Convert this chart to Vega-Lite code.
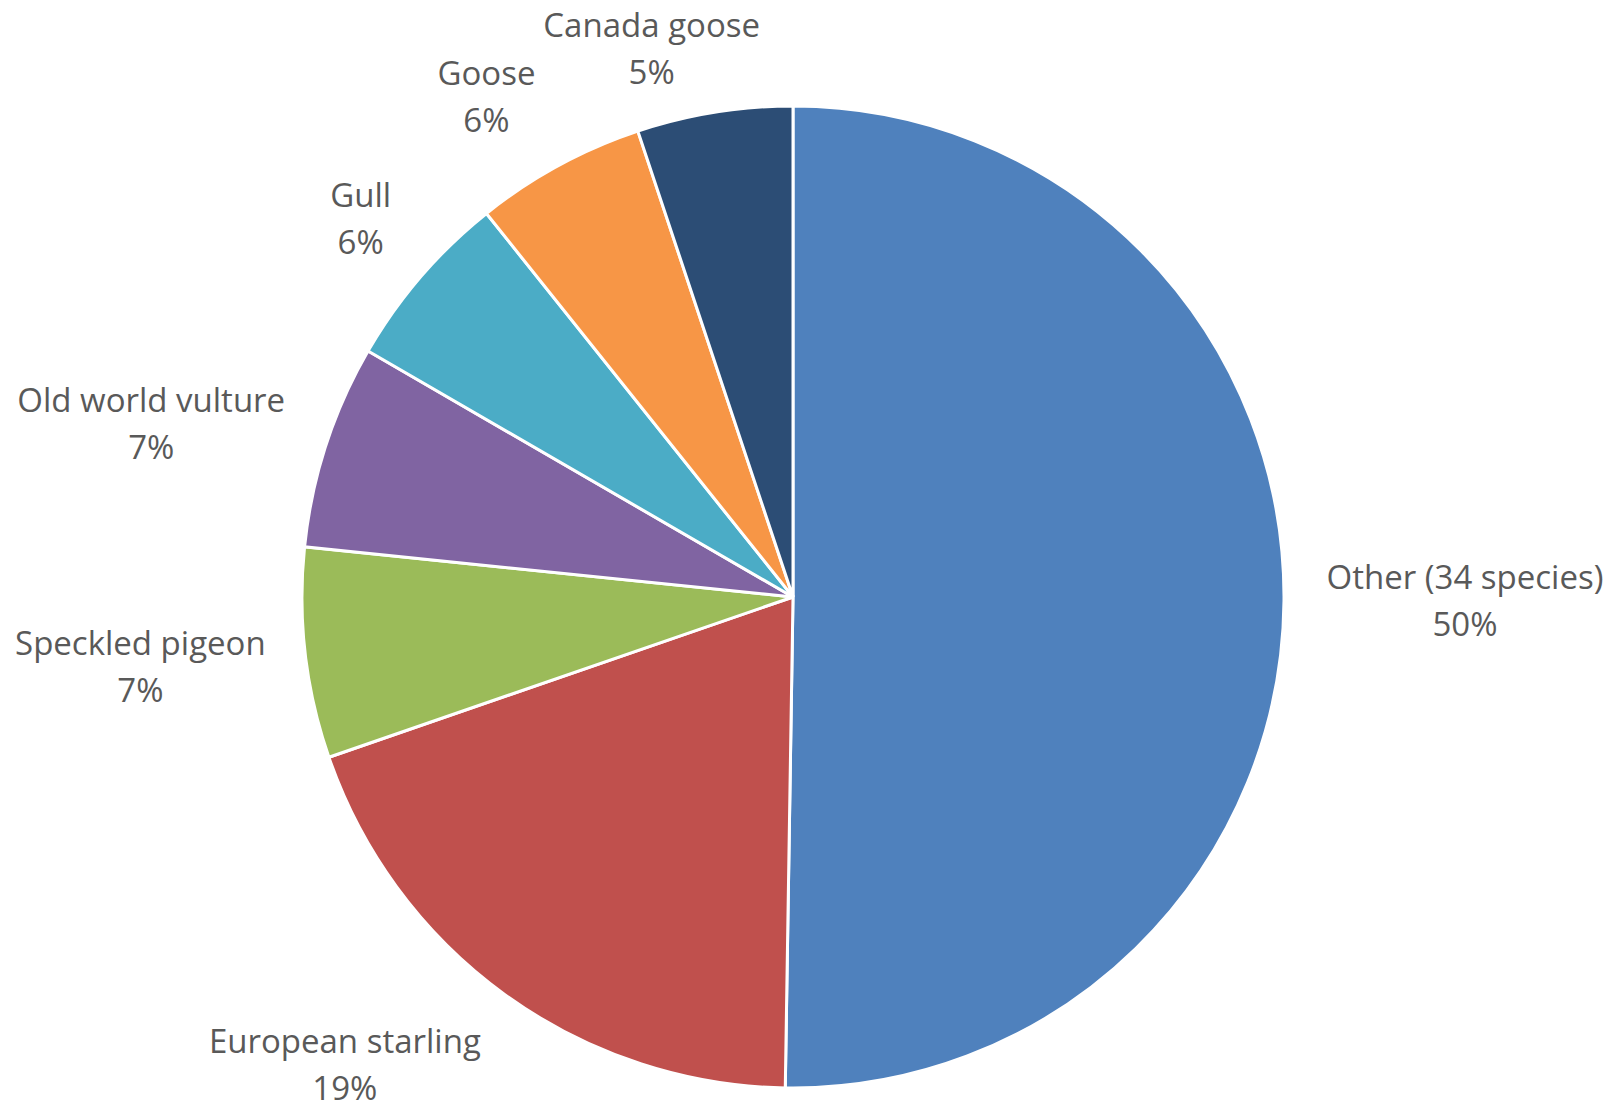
{
  "$schema": "https://vega.github.io/schema/vega-lite/v6.json",
  "width": 1586,
  "height": 1020,
  "autosize": {"type": "none"},
  "padding": {"left": 0, "top": 87, "right": 29, "bottom": 0},
  "background": "white",
  "view": {"stroke": null},
  "config": {
    "text": {"font": "Open Sans", "fontSize": 33, "lineHeight": 47, "lineBreak": "\n", "fill": "#595959", "align": "center", "baseline": "middle"}
  },
  "data": {
    "values": [
      {"species": "Other (34 species)", "value": 0.501, "rank": 1},
      {"species": "European starling", "value": 0.194, "rank": 2},
      {"species": "Speckled pigeon", "value": 0.069, "rank": 3},
      {"species": "Old world vulture", "value": 0.067, "rank": 4},
      {"species": "Gull", "value": 0.059, "rank": 5},
      {"species": "Goose", "value": 0.056, "rank": 6},
      {"species": "Canada goose", "value": 0.051, "rank": 7}
    ]
  },
  "transform": [
    {"calculate": "datum.species + '\\n' + format(datum.value, '.0%')", "as": "label"}
  ],
  "encoding": {
    "theta": {"field": "value", "type": "quantitative", "stack": true},
    "order": {"field": "rank", "type": "quantitative"}
  },
  "layer": [
    {
      "mark": {"type": "arc", "outerRadius": 491, "stroke": "white", "strokeWidth": 3},
      "encoding": {
        "color": {
          "field": "species",
          "type": "nominal",
          "legend": null,
          "scale": {
            "domain": ["Other (34 species)", "European starling", "Speckled pigeon", "Old world vulture", "Gull", "Goose", "Canada goose"],
            "range": ["#4F81BD", "#C0504D", "#9BBB59", "#8064A2", "#4BACC6", "#F79646", "#2C4D75"]
          }
        }
      }
    },
    {
      "mark": {"type": "text", "radius": 672, "dy": -23.5},
      "encoding": {
        "text": {"condition": {"test": "datum.species === 'Other (34 species)'", "field": "label", "type": "nominal"}, "value": ""}
      }
    },
    {
      "mark": {"type": "text", "radius": 578, "dx": -109, "dy": -22},
      "encoding": {
        "text": {"condition": {"test": "datum.species === 'European starling'", "field": "label", "type": "nominal"}, "value": ""}
      }
    },
    {
      "mark": {"type": "text", "radius": 661, "dx": 4, "dy": -28},
      "encoding": {
        "text": {"condition": {"test": "datum.species === 'Speckled pigeon'", "field": "label", "type": "nominal"}, "value": ""}
      }
    },
    {
      "mark": {"type": "text", "radius": 661, "dx": -13, "dy": 9},
      "encoding": {
        "text": {"condition": {"test": "datum.species === 'Old world vulture'", "field": "label", "type": "nominal"}, "value": ""}
      }
    },
    {
      "mark": {"type": "text", "radius": 577, "dx": 5, "dy": -23.5},
      "encoding": {
        "text": {"condition": {"test": "datum.species === 'Gull'", "field": "label", "type": "nominal"}, "value": ""}
      }
    },
    {
      "mark": {"type": "text", "radius": 577, "dx": -31, "dy": -15},
      "encoding": {
        "text": {"condition": {"test": "datum.species === 'Goose'", "field": "label", "type": "nominal"}, "value": ""}
      }
    },
    {
      "mark": {"type": "text", "radius": 577, "dx": -49, "dy": 0},
      "encoding": {
        "text": {"condition": {"test": "datum.species === 'Canada goose'", "field": "label", "type": "nominal"}, "value": ""}
      }
    }
  ]
}
